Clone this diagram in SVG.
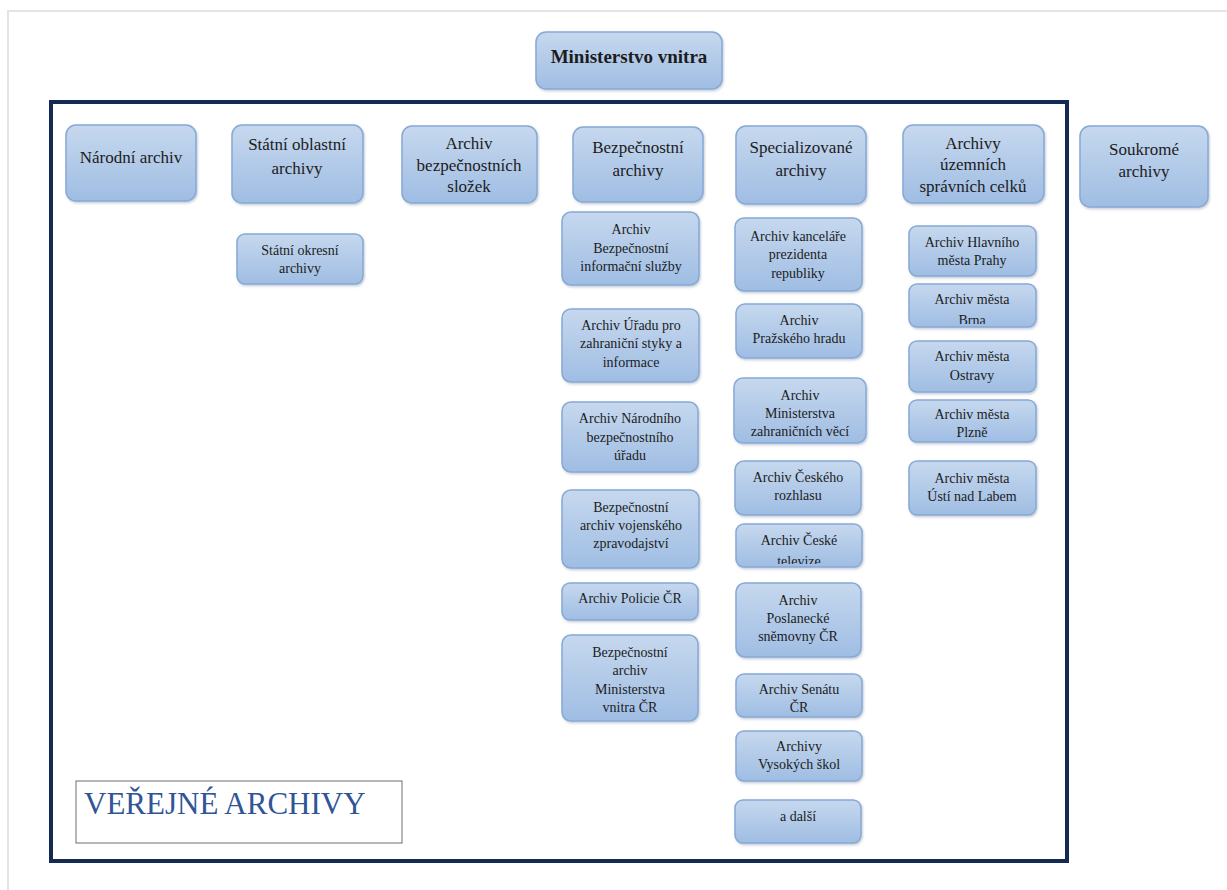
<svg xmlns="http://www.w3.org/2000/svg" width="1227" height="890" viewBox="0 0 1227 890">
<defs>
<linearGradient id="g" x1="0" y1="0" x2="0" y2="1">
<stop offset="0" stop-color="#c6d8ee"/>
<stop offset="1" stop-color="#9fbde3"/>
</linearGradient>
<filter id="sh" x="-10%" y="-10%" width="130%" height="130%">
<feDropShadow dx="1" dy="1.5" stdDeviation="1.2" flood-color="#5a6f8c" flood-opacity="0.35"/>
</filter>
<clipPath id="clipBrna"><rect x="909" y="284" width="128" height="40"/></clipPath>
<clipPath id="clipTv"><rect x="736" y="524" width="127" height="40"/></clipPath>
</defs>
<style>
text{font-family:'Liberation Serif','DejaVu Serif',serif}
.n{fill:url(#g);stroke:#87a9d6;stroke-width:1.5;filter:url(#sh)}
.t{font-size:17px;fill:#1c1c1c;text-anchor:middle}
.s{font-size:14px;fill:#1c1c1c;text-anchor:middle}
.b{font-weight:bold;font-size:19px}
.v{font-size:31px;fill:#2f5597}
</style>
<rect x="0" y="0" width="1227" height="890" fill="#ffffff"/>
<path d="M8 890 V11 H1227" fill="none" stroke="#e4e4e4" stroke-width="2"/>
<rect id="frame" x="51" y="102" width="1016" height="759" fill="#ffffff" stroke="#142a52" stroke-width="4"/>
<g id="connectors"/>

<g id="ministerstvo"><rect class="n" x="536" y="32" width="186" height="57" rx="10"/><text class="t b" x="629" y="63">Ministerstvo vnitra</text></g>

<g id="narodni"><rect class="n" x="66" y="125" width="130" height="76" rx="10"/><text class="t" x="131" y="163">Národní archiv</text></g>
<g id="sta"><rect class="n" x="232" y="125" width="131" height="78" rx="10"/><text class="t" x="297" y="150">Státní oblastní</text><text class="t" x="297" y="174">archivy</text></g>
<g id="abs"><rect class="n" x="402" y="126" width="135" height="77" rx="10"/><text class="t" x="469" y="149">Archiv</text><text class="t" x="469" y="171">bezpečnostních</text><text class="t" x="469" y="192">složek</text></g>
<g id="bezp"><rect class="n" x="573" y="127" width="130" height="75" rx="10"/><text class="t" x="638" y="153">Bezpečnostní</text><text class="t" x="638" y="176">archivy</text></g>
<g id="spec"><rect class="n" x="736" y="126" width="130" height="78" rx="10"/><text class="t" x="801" y="153">Specializované</text><text class="t" x="801" y="176">archivy</text></g>
<g id="usc"><rect class="n" x="903" y="125" width="141" height="78" rx="10"/><text class="t" x="973" y="149">Archivy</text><text class="t" x="973" y="170">územních</text><text class="t" x="973" y="192">správních celků</text></g>
<g id="soukrome"><rect class="n" x="1080" y="126" width="128" height="81" rx="10"/><text class="t" x="1144" y="155">Soukromé</text><text class="t" x="1144" y="177">archivy</text></g>

<g id="soka"><rect class="n" x="237" y="234" width="126" height="50" rx="8"/><text class="s" x="300" y="255">Státní okresní</text><text class="s" x="300" y="273">archivy</text></g>

<g id="bis"><rect class="n" x="562" y="212" width="137" height="73" rx="9"/><text class="s" x="631" y="234">Archiv</text><text class="s" x="631" y="253">Bezpečnostní</text><text class="s" x="631" y="271">informační služby</text></g>
<g id="uzsi"><rect class="n" x="562" y="309" width="137" height="73" rx="9"/><text class="s" x="631" y="330">Archiv Úřadu pro</text><text class="s" x="631" y="348">zahraniční styky a</text><text class="s" x="631" y="367">informace</text></g>
<g id="nbu"><rect class="n" x="562" y="402" width="136" height="70" rx="9"/><text class="s" x="630" y="423">Archiv Národního</text><text class="s" x="630" y="442">bezpečnostního</text><text class="s" x="630" y="460">úřadu</text></g>
<g id="voj"><rect class="n" x="562" y="490" width="137" height="78" rx="9"/><text class="s" x="631" y="512">Bezpečnostní</text><text class="s" x="631" y="530">archiv vojenského</text><text class="s" x="631" y="548">zpravodajství</text></g>
<g id="policie"><rect class="n" x="562" y="583" width="136" height="37" rx="8"/><text class="s" x="630" y="603" font-size="15">Archiv Policie ČR</text></g>
<g id="mv"><rect class="n" x="562" y="635" width="136" height="86" rx="9"/><text class="s" x="630" y="657">Bezpečnostní</text><text class="s" x="630" y="675">archiv</text><text class="s" x="630" y="694">Ministerstva</text><text class="s" x="630" y="712">vnitra ČR</text></g>

<g id="kpr"><rect class="n" x="735" y="218" width="127" height="73" rx="9"/><text class="s" x="798" y="241">Archiv kanceláře</text><text class="s" x="798" y="259">prezidenta</text><text class="s" x="798" y="278">republiky</text></g>
<g id="hrad"><rect class="n" x="736" y="304" width="126" height="54" rx="9"/><text class="s" x="799" y="325">Archiv</text><text class="s" x="799" y="343">Pražského hradu</text></g>
<g id="mzv"><rect class="n" x="734" y="378" width="132" height="65" rx="9"/><text class="s" x="800" y="400">Archiv</text><text class="s" x="800" y="418">Ministerstva</text><text class="s" x="800" y="436">zahraničních věcí</text></g>
<g id="rozhlas"><rect class="n" x="735" y="461" width="126" height="54" rx="9"/><text class="s" x="798" y="482">Archiv Českého</text><text class="s" x="798" y="500">rozhlasu</text></g>
<g id="tv"><rect class="n" x="736" y="524" width="126" height="43" rx="8"/><g clip-path="url(#clipTv)"><text class="s" x="799" y="545">Archiv České</text><text class="s" x="799" y="566">televize</text></g></g>
<g id="psp"><rect class="n" x="736" y="583" width="125" height="74" rx="9"/><text class="s" x="798" y="605">Archiv</text><text class="s" x="798" y="623">Poslanecké</text><text class="s" x="798" y="641">sněmovny ČR</text></g>
<g id="senat"><rect class="n" x="736" y="674" width="126" height="43" rx="8"/><text class="s" x="799" y="694">Archiv Senátu</text><text class="s" x="799" y="712">ČR</text></g>
<g id="vs"><rect class="n" x="736" y="731" width="126" height="50" rx="8"/><text class="s" x="799" y="751">Archivy</text><text class="s" x="799" y="769">Vysokých škol</text></g>
<g id="dalsi"><rect class="n" x="735" y="800" width="126" height="43" rx="8"/><text class="s" x="798" y="821">a další</text></g>

<g id="praha"><rect class="n" x="909" y="226" width="127" height="50" rx="8"/><text class="s" x="972" y="247">Archiv Hlavního</text><text class="s" x="972" y="265">města Prahy</text></g>
<g id="brno"><rect class="n" x="909" y="284" width="127" height="43" rx="8"/><g clip-path="url(#clipBrna)"><text class="s" x="972" y="304">Archiv města</text><text class="s" x="972" y="325">Brna</text></g></g>
<g id="ostrava"><rect class="n" x="909" y="341" width="127" height="51" rx="8"/><text class="s" x="972" y="361">Archiv města</text><text class="s" x="972" y="380">Ostravy</text></g>
<g id="plzen"><rect class="n" x="909" y="400" width="127" height="42" rx="8"/><text class="s" x="972" y="419">Archiv města</text><text class="s" x="972" y="437">Plzně</text></g>
<g id="usti"><rect class="n" x="909" y="461" width="127" height="54" rx="8"/><text class="s" x="972" y="483">Archiv města</text><text class="s" x="972" y="501">Ústí nad Labem</text></g>

<g id="verejne"><rect x="76" y="781" width="326" height="62" fill="#ffffff" stroke="#6e6e6e" stroke-width="1"/><text class="v" x="84" y="814">VEŘEJNÉ ARCHIVY</text></g>
</svg>
